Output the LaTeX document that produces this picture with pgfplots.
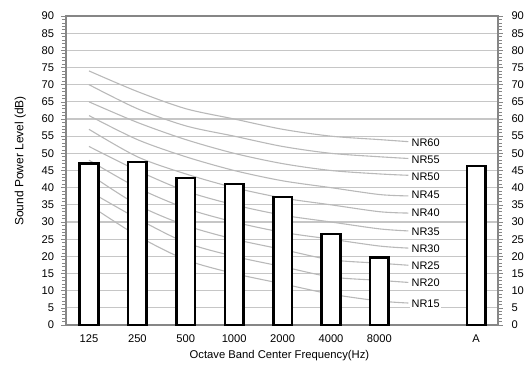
\documentclass[border=0pt]{standalone}
\usepackage{fontspec}
\setmainfont{Liberation Sans}
\usepackage{pgfplots}
\pgfplotsset{compat=1.18}
\definecolor{gridc}{RGB}{198,198,198}
\definecolor{nrc}{RGB}{185,185,185}
\definecolor{framec}{RGB}{134,134,134}
\begin{document}
\begin{tikzpicture}
\path[use as bounding box] (-66bp,-40bp) rectangle (466bp,325bp);
\begin{axis}[
  scale only axis, width=432bp, height=309bp,
  at={(0,0)}, anchor=south west,
  xmin=-0.475, xmax=8.45, ymin=0, ymax=90,
  xtick={0,1,2,3,4,5,6,8},
  xticklabels={125,250,500,1000,2000,4000,8000,A},
  x tick style={draw=none},
  ytick={0,5,...,90}, minor y tick num=4,
  ytick pos=both, yticklabel pos=left,
  tick align=outside,
  major tick length=5bp, minor tick length=4bp,
  y tick style={framec, line width=0.6bp},
  ymajorgrids, grid style={gridc, line width=1.1bp},
  axis line style={framec, line width=2.2bp},
  /pgf/number format/assume math mode=true,
  ticklabel style={font=\fontsize{11.2}{13}\selectfont},
  yticklabel style={xshift=-3.5bp},
  xticklabel style={yshift=-1bp},
  xlabel={Octave Band Center Frequency(Hz)},
  ylabel={Sound Power Level (dB)},
  xlabel style={font=\fontsize{11.3}{13}\selectfont, at={(axis description cs:0.494,-0.100)}, anchor=center},
  ylabel style={font=\fontsize{12}{14}\selectfont, at={(axis description cs:-0.106,0.531)}, anchor=center},
]
% NR curves
\pgfplotsset{nr/.style={nrc, line width=1.1bp, smooth, no markers}}
\addplot[nr] coordinates {(0,35) (1,26) (2,19) (3,15) (4,12) (5,9) (6,7) (6.6,6.4)};
\addplot[nr] coordinates {(0,39) (1,31) (2,24) (3,20) (4,17) (5,14) (6,13) (6.6,12.4)};
\addplot[nr] coordinates {(0,44) (1,35) (2,29) (3,25) (4,22) (5,19) (6,18) (6.6,17.4)};
\addplot[nr] coordinates {(0,48) (1,40) (2,34) (3,30) (4,27) (5,25) (6,23) (6.6,22.4)};
\addplot[nr] coordinates {(0,52) (1,45) (2,39) (3,35) (4,32) (5,30) (6,28) (6.6,27.4)};
\addplot[nr] coordinates {(0,57) (1,49) (2,44) (3,40) (4,37) (5,35) (6,33) (6.6,32.6)};
\addplot[nr] coordinates {(0,61) (1,54) (2,49) (3,45) (4,42) (5,40) (6,38) (6.6,37.6)};
\addplot[nr] coordinates {(0,65) (1,59) (2,54) (3,50) (4,47) (5,45) (6,44) (6.6,43.6)};
\addplot[nr] coordinates {(0,70) (1,63) (2,58) (3,55) (4,52) (5,50) (6,49) (6.6,48.5)};
\addplot[nr] coordinates {(0,74) (1,68) (2,63) (3,60) (4,57) (5,55) (6,54) (6.6,53.4)};
% bars
\addplot[ybar, bar width=18.5bp, draw=black, fill=white, line width=2.6bp]
  coordinates {(0,47.0) (1,47.5) (2,42.8) (3,41.1) (4,37.3) (5,26.5) (6,19.7) (8,46.3)};
% labels
\foreach \v/\t in {53/NR60,48.1/NR55,43.1/NR50,37.9/NR45,32.6/NR40,27.1/NR35,22.1/NR30,17.2/NR25,12.2/NR20,6.1/NR15}{
  \edef\tmp{\noexpand\node[anchor=west, fill=white, inner sep=1.5bp, font=\noexpand\fontsize{11}{13}\noexpand\selectfont] at (axis cs:6.63,\v) {\t};}
  \tmp
}
\end{axis}
\begin{axis}[
  scale only axis, width=432bp, height=309bp,
  at={(0,0)}, anchor=south west,
  xmin=-0.475, xmax=8.45, ymin=0, ymax=90,
  hide x axis,
  axis y line*=right,
  y axis line style={draw=none},
  ytick={0,5,...,90},
  major tick length=0pt,
  /pgf/number format/assume math mode=true,
  ticklabel style={font=\fontsize{11.2}{13}\selectfont},
  yticklabel style={xshift=10bp},
]
\addplot[draw=none] coordinates {(0,0)};
\end{axis}
\end{tikzpicture}
\end{document}
